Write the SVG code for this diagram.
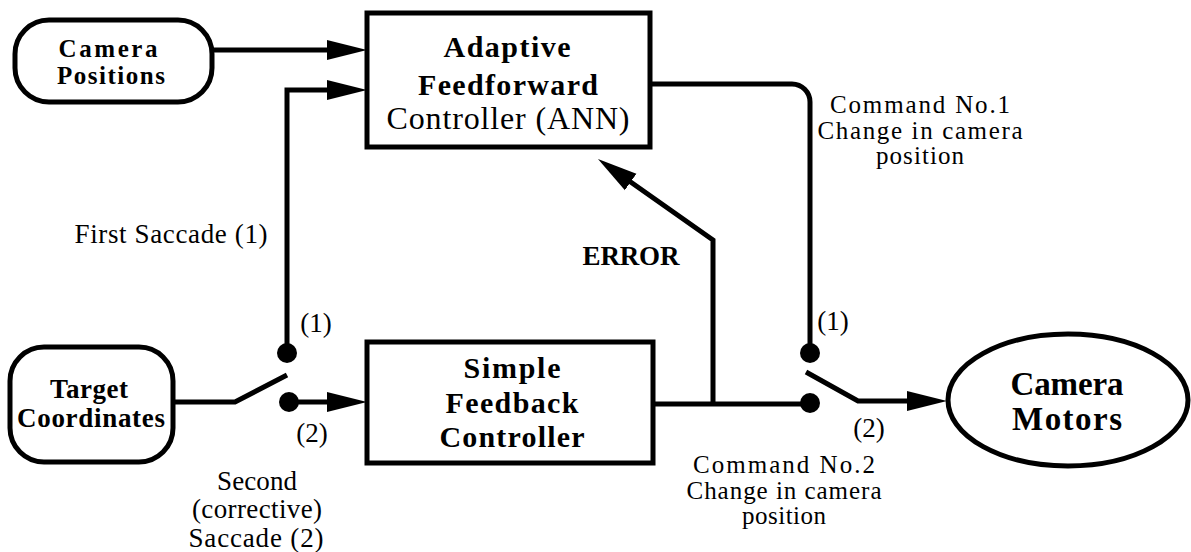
<svg xmlns="http://www.w3.org/2000/svg" width="1191" height="552" viewBox="0 0 1191 552">
<style>
.box{fill:#fff;stroke:#000;stroke-width:5}
.ln{fill:none;stroke:#000;stroke-width:5}
.dot{fill:#000}
text{font-family:"Liberation Serif","Times New Roman",serif;fill:#000;text-anchor:middle}
.b{font-weight:bold}
.t30{font-size:30px}
.t27{font-size:27px}
.t25{font-size:25px}
</style>
<defs>
<marker id="ah" markerUnits="userSpaceOnUse" markerWidth="40" markerHeight="24" viewBox="0 0 40 24" refX="20" refY="12" orient="auto">
<path d="M0,2 L40,12 L0,22 Z" fill="#000"/>
</marker>
</defs>
<rect width="1191" height="552" fill="#fff"/>
<g id="connectors">
<path class="ln" d="M212,50 H347" marker-end="url(#ah)"/>
<path class="ln" d="M287,353 V90 H347" marker-end="url(#ah)"/>
<path class="ln" d="M173,402 H235 L287,375"/>
<path class="ln" d="M289,402 H347" marker-end="url(#ah)"/>
<path class="ln" d="M650,84 H792 A18,18 0 0 1 810,102 V353"/>
<path class="ln" d="M653,404 H810"/>
<path class="ln" d="M713,404 V240 L614.3,170.5" marker-end="url(#ah)"/>
<path class="ln" d="M806,372 L858,401 H927" marker-end="url(#ah)"/>
<circle class="dot" cx="287" cy="353" r="10"/>
<circle class="dot" cx="289" cy="402" r="10"/>
<circle class="dot" cx="810" cy="353" r="10"/>
<circle class="dot" cx="810" cy="403" r="10"/>
</g>
<g id="camera-positions">
<rect class="box" x="15" y="20" width="197" height="82" rx="34"/>
<text class="b t25" x="108" y="57" textLength="99" lengthAdjust="spacing">Camera</text>
<text class="b t25" x="111" y="84" textLength="108" lengthAdjust="spacing">Positions</text>
</g>
<g id="afc">
<rect class="box" x="367" y="13" width="283" height="134"/>
<text class="b t30" x="507" y="57" textLength="127" lengthAdjust="spacing">Adaptive</text>
<text class="b t30" x="508" y="95" textLength="180" lengthAdjust="spacing">Feedforward</text>
<text style="font-size:32px" x="508" y="129" textLength="243" lengthAdjust="spacing">Controller (ANN)</text>
</g>
<g id="target-coordinates">
<rect class="box" x="10" y="347" width="163" height="115" rx="34"/>
<text class="b t27" x="89" y="398" textLength="78" lengthAdjust="spacing">Target</text>
<text class="b t27" x="91" y="427" textLength="148" lengthAdjust="spacing">Coordinates</text>
</g>
<g id="sfc">
<rect class="box" x="367" y="342" width="286" height="121"/>
<text class="b t30" x="512" y="378" textLength="97" lengthAdjust="spacing">Simple</text>
<text class="b t30" x="512" y="413" textLength="133" lengthAdjust="spacing">Feedback</text>
<text class="b t30" x="512" y="447" textLength="145" lengthAdjust="spacing">Controller</text>
</g>
<g id="camera-motors">
<ellipse class="box" cx="1068" cy="400" rx="120" ry="66"/>
<text class="b" style="font-size:33px" x="1067" y="395" textLength="113" lengthAdjust="spacing">Camera</text>
<text class="b" style="font-size:33px" x="1067" y="430" textLength="110" lengthAdjust="spacing">Motors</text>
</g>
<g id="labels">
<text class="t27" x="171" y="243" textLength="193" lengthAdjust="spacing">First Saccade (1)</text>
<text class="b" style="font-size:27px" x="631" y="265" textLength="97" lengthAdjust="spacing">ERROR</text>
<text class="t27" x="316" y="332">(1)</text>
<text class="t27" x="312" y="442">(2)</text>
<text class="t27" x="833" y="330">(1)</text>
<text class="t27" x="869" y="437">(2)</text>
<text class="t25" x="920" y="113" textLength="180" lengthAdjust="spacing">Command No.1</text>
<text class="t25" x="920" y="139" textLength="205" lengthAdjust="spacing">Change in camera</text>
<text class="t25" x="920" y="164" textLength="88" lengthAdjust="spacing">position</text>
<text class="t25" x="784" y="473" textLength="182" lengthAdjust="spacing">Command No.2</text>
<text class="t25" x="784" y="499" textLength="195" lengthAdjust="spacing">Change in camera</text>
<text class="t25" x="784" y="524" textLength="84" lengthAdjust="spacing">position</text>
<text class="t27" x="257" y="490" textLength="80" lengthAdjust="spacing">Second</text>
<text class="t27" x="257" y="518" textLength="130" lengthAdjust="spacing">(corrective)</text>
<text class="t27" x="256" y="547" textLength="135" lengthAdjust="spacing">Saccade (2)</text>
</g>
</svg>
